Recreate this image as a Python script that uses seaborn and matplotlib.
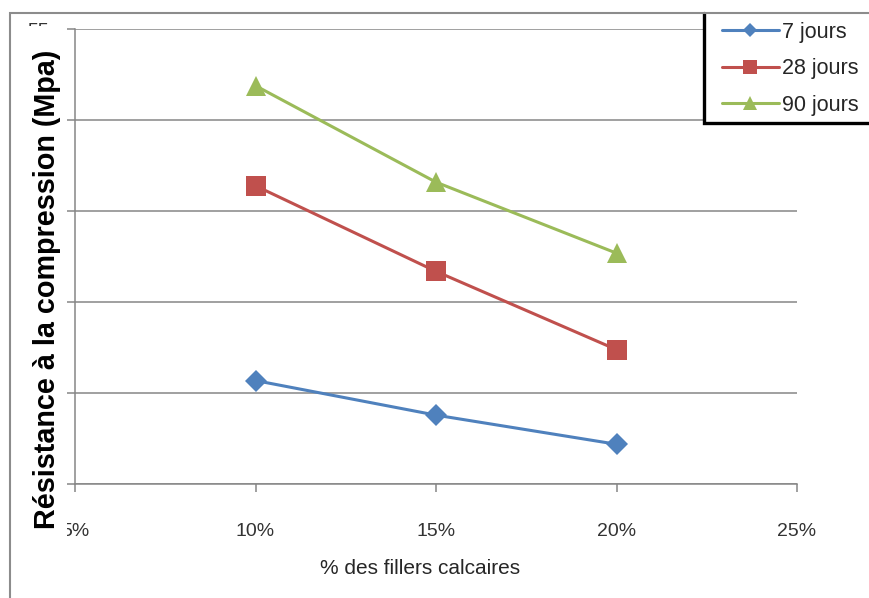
import numpy as np
import pandas as pd
import matplotlib
matplotlib.use("Agg")
import matplotlib.pyplot as plt
import seaborn as sns
from matplotlib.patches import Rectangle
from matplotlib.lines import Line2D
from matplotlib.ticker import FuncFormatter

# Compressive strength (MPa) vs limestone filler content
fillers = [10, 15, 20]
ages = ["7 jours", "28 jours", "90 jours"]
r7 = [35.7, 33.8, 32.2]
r28 = [46.4, 41.7, 37.4]
r90 = [51.9, 46.6, 42.7]
x_ticks = [5, 10, 15, 20, 25]
y_ticks = [30, 35, 40, 45, 50, 55]
colors = ["#4F81BD", "#C0504D", "#9BBB59"]
markers = ["D", "s", "^"]
marker_sizes = [11.5, 14.5, 15]

df = pd.DataFrame({
    "filler": fillers * 3,
    "age": np.repeat(ages, len(fillers)),
    "res": r7 + r28 + r90,
})

sns.set_theme(style="white")
plt.rcParams["font.family"] = ["Liberation Sans", "DejaVu Sans"]

W, H = 869, 598
fig = plt.figure(figsize=(W / 100, H / 100), dpi=100)


def fx(px):
    return px / W


def fy(py):
    return 1 - py / H


ax = fig.add_axes([fx(75), fy(484.3), fx(797) - fx(75), fy(29.3) - fy(484.3)])
sns.lineplot(
    data=df, x="filler", y="res", hue="age", style="age",
    markers=dict(zip(ages, markers)), dashes=False,
    palette=dict(zip(ages, colors)), hue_order=ages, style_order=ages,
    lw=2.2, markeredgewidth=0, legend=False, ax=ax,
)
lines = ax.get_lines()[:3]
for ln, ms in zip(lines, marker_sizes):
    ln.set_markersize(ms)

ax.set_xlim(5, 25)
ax.set_ylim(30, 55)
ax.set_xticks(x_ticks)
ax.set_yticks(y_ticks)
ax.xaxis.set_major_formatter(FuncFormatter(lambda v, p: f"{int(v)}%"))
ax.set_xlabel("")
ax.set_ylabel("")

grid_c = "#868686"
ax.grid(axis="y", color=grid_c, lw=1.1)
ax.grid(axis="x", visible=False)
ax.set_axisbelow(True)
for s in ["top", "right"]:
    ax.spines[s].set_visible(False)
for s in ["left", "bottom"]:
    ax.spines[s].set_color(grid_c)
    ax.spines[s].set_linewidth(1.1)
ax.tick_params(axis="both", direction="out", length=6, width=1.1,
               color=grid_c, labelsize=14, labelcolor="#333333",
               left=True, bottom=True)
ax.tick_params(axis="x", pad=22)
ax.tick_params(axis="y", pad=13)

# white band behind the vertical title
fig.add_artist(Rectangle((fx(14), fy(540)), fx(67) - fx(14), fy(26) - fy(540),
                         transform=fig.transFigure, fc="white", ec="none",
                         zorder=3))
fig.text(fx(47), fy(289), "Résistance à la compression (Mpa)", rotation=90,
         ha="center", va="center", fontsize=20.7, fontweight="bold",
         color="black", zorder=4)
fig.text(fx(420), fy(568), "% des fillers calcaires", ha="center",
         va="center", fontsize=15, color="#262626", zorder=4)

# legend panel: white fill, heavy black left and bottom edges
fig.add_artist(Rectangle((fx(704), fy(123)), fx(900) - fx(704), fy(13) - fy(123),
                         transform=fig.transFigure, fc="white", ec="none",
                         zorder=3))
fig.add_artist(Line2D([fx(704), fx(704), fx(880)], [fy(13), fy(123), fy(123)],
                      transform=fig.transFigure, color="black", lw=2.4,
                      solid_joinstyle="miter", zorder=4))
leg = fig.legend(lines, ages, loc="upper left",
                 bbox_to_anchor=(fx(713), fy(13)),
                 bbox_transform=fig.transFigure,
                 borderaxespad=0, frameon=False, fontsize=15.5,
                 handlelength=2.65, handletextpad=0.15, labelspacing=0.72,
                 borderpad=0.4, markerscale=0.65)
leg.set_zorder(4)
for t in leg.get_texts():
    t.set_color("#262626")

# outer chart frame
fig.add_artist(Rectangle((fx(10), fy(700)), fx(1000) - fx(10), fy(13) - fy(700),
                         transform=fig.transFigure, fc="none", ec="#8c8c8c",
                         lw=1.5, zorder=5))

fig.savefig("out.png", dpi=100)
